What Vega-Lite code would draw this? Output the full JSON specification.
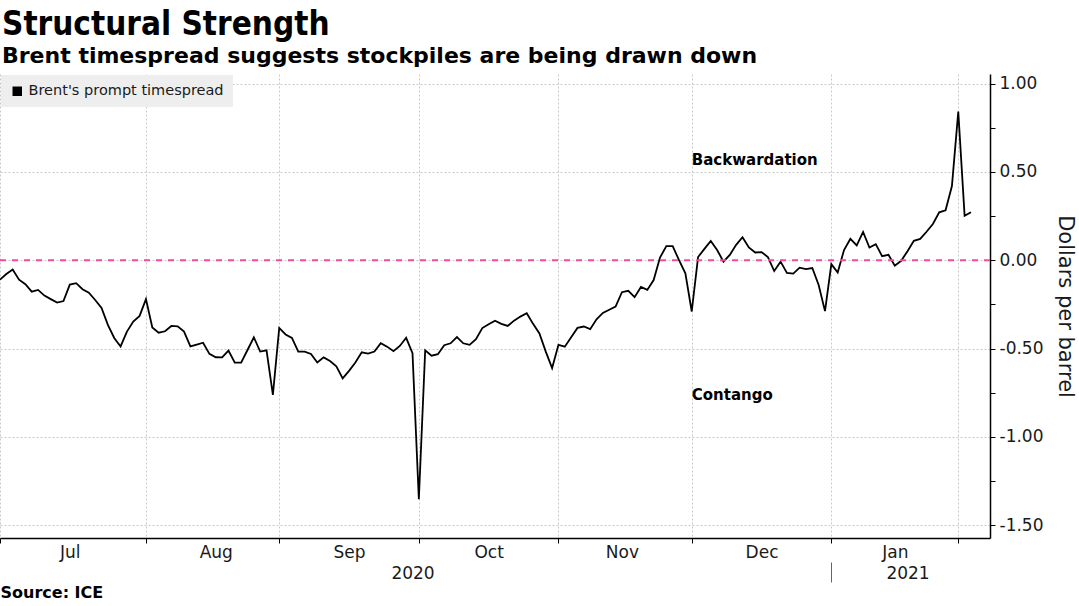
{
  "$schema": "https://vega.github.io/schema/vega-lite/v6.json",
  "width": 990,
  "height": 464,
  "autosize": {"type": "none"},
  "padding": {"left": 0, "top": 74, "right": 89, "bottom": 68},
  "background": "white",
  "title": {
    "text": "Structural Strength",
    "subtitle": "Brent timespread suggests stockpiles are being drawn down",
    "anchor": "start",
    "frame": "group",
    "font": "DejaVu Sans Condensed",
    "fontSize": 33,
    "fontWeight": "bold",
    "color": "#000000",
    "subtitleFont": "DejaVu Sans",
    "subtitleFontSize": 22,
    "subtitleFontWeight": "bold",
    "subtitleColor": "#000000",
    "subtitlePadding": 4,
    "offset": 7,
    "dx": 2
  },
  "config": {"view": {"stroke": null}, "font": "DejaVu Sans"},
  "datasets": {
    "spread": [
      {"date": "2020-07-01", "value": -0.11},
      {"date": "2020-07-02", "value": -0.078},
      {"date": "2020-07-03", "value": -0.052},
      {"date": "2020-07-06", "value": -0.11},
      {"date": "2020-07-07", "value": -0.136},
      {"date": "2020-07-08", "value": -0.178},
      {"date": "2020-07-09", "value": -0.168},
      {"date": "2020-07-10", "value": -0.2},
      {"date": "2020-07-13", "value": -0.22},
      {"date": "2020-07-14", "value": -0.24},
      {"date": "2020-07-15", "value": -0.231},
      {"date": "2020-07-16", "value": -0.138},
      {"date": "2020-07-17", "value": -0.13},
      {"date": "2020-07-20", "value": -0.164},
      {"date": "2020-07-21", "value": -0.184},
      {"date": "2020-07-22", "value": -0.225},
      {"date": "2020-07-23", "value": -0.27},
      {"date": "2020-07-24", "value": -0.366},
      {"date": "2020-07-27", "value": -0.44},
      {"date": "2020-07-28", "value": -0.488},
      {"date": "2020-07-29", "value": -0.404},
      {"date": "2020-07-30", "value": -0.347},
      {"date": "2020-07-31", "value": -0.315},
      {"date": "2020-08-03", "value": -0.22},
      {"date": "2020-08-04", "value": -0.381},
      {"date": "2020-08-05", "value": -0.41},
      {"date": "2020-08-06", "value": -0.402},
      {"date": "2020-08-07", "value": -0.372},
      {"date": "2020-08-10", "value": -0.374},
      {"date": "2020-08-11", "value": -0.404},
      {"date": "2020-08-12", "value": -0.488},
      {"date": "2020-08-13", "value": -0.477},
      {"date": "2020-08-14", "value": -0.467},
      {"date": "2020-08-17", "value": -0.53},
      {"date": "2020-08-18", "value": -0.549},
      {"date": "2020-08-19", "value": -0.55},
      {"date": "2020-08-20", "value": -0.511},
      {"date": "2020-08-21", "value": -0.58},
      {"date": "2020-08-24", "value": -0.58},
      {"date": "2020-08-25", "value": -0.508},
      {"date": "2020-08-26", "value": -0.436},
      {"date": "2020-08-27", "value": -0.517},
      {"date": "2020-08-28", "value": -0.51},
      {"date": "2020-08-31", "value": -0.762},
      {"date": "2020-09-01", "value": -0.383},
      {"date": "2020-09-02", "value": -0.42},
      {"date": "2020-09-03", "value": -0.44},
      {"date": "2020-09-04", "value": -0.517},
      {"date": "2020-09-07", "value": -0.517},
      {"date": "2020-09-08", "value": -0.53},
      {"date": "2020-09-09", "value": -0.579},
      {"date": "2020-09-10", "value": -0.55},
      {"date": "2020-09-11", "value": -0.57},
      {"date": "2020-09-14", "value": -0.6},
      {"date": "2020-09-15", "value": -0.669},
      {"date": "2020-09-16", "value": -0.626},
      {"date": "2020-09-17", "value": -0.579},
      {"date": "2020-09-18", "value": -0.521},
      {"date": "2020-09-21", "value": -0.528},
      {"date": "2020-09-22", "value": -0.517},
      {"date": "2020-09-23", "value": -0.469},
      {"date": "2020-09-24", "value": -0.489},
      {"date": "2020-09-25", "value": -0.515},
      {"date": "2020-09-28", "value": -0.485},
      {"date": "2020-09-29", "value": -0.439},
      {"date": "2020-09-30", "value": -0.526},
      {"date": "2020-10-01", "value": -1.353},
      {"date": "2020-10-02", "value": -0.51},
      {"date": "2020-10-05", "value": -0.54},
      {"date": "2020-10-06", "value": -0.532},
      {"date": "2020-10-07", "value": -0.481},
      {"date": "2020-10-08", "value": -0.47},
      {"date": "2020-10-09", "value": -0.435},
      {"date": "2020-10-12", "value": -0.47},
      {"date": "2020-10-13", "value": -0.479},
      {"date": "2020-10-14", "value": -0.447},
      {"date": "2020-10-15", "value": -0.384},
      {"date": "2020-10-16", "value": -0.362},
      {"date": "2020-10-19", "value": -0.342},
      {"date": "2020-10-20", "value": -0.36},
      {"date": "2020-10-21", "value": -0.372},
      {"date": "2020-10-22", "value": -0.342},
      {"date": "2020-10-23", "value": -0.319},
      {"date": "2020-10-26", "value": -0.3},
      {"date": "2020-10-27", "value": -0.36},
      {"date": "2020-10-28", "value": -0.414},
      {"date": "2020-10-29", "value": -0.517},
      {"date": "2020-10-30", "value": -0.61},
      {"date": "2020-11-02", "value": -0.479},
      {"date": "2020-11-03", "value": -0.489},
      {"date": "2020-11-04", "value": -0.436},
      {"date": "2020-11-05", "value": -0.383},
      {"date": "2020-11-06", "value": -0.375},
      {"date": "2020-11-09", "value": -0.39},
      {"date": "2020-11-10", "value": -0.334},
      {"date": "2020-11-11", "value": -0.298},
      {"date": "2020-11-12", "value": -0.28},
      {"date": "2020-11-13", "value": -0.262},
      {"date": "2020-11-16", "value": -0.181},
      {"date": "2020-11-17", "value": -0.173},
      {"date": "2020-11-18", "value": -0.209},
      {"date": "2020-11-19", "value": -0.151},
      {"date": "2020-11-20", "value": -0.168},
      {"date": "2020-11-23", "value": -0.112},
      {"date": "2020-11-24", "value": 0.015},
      {"date": "2020-11-25", "value": 0.08},
      {"date": "2020-11-26", "value": 0.08},
      {"date": "2020-11-27", "value": 0.0},
      {"date": "2020-11-30", "value": -0.074},
      {"date": "2020-12-01", "value": -0.29},
      {"date": "2020-12-02", "value": 0.018},
      {"date": "2020-12-03", "value": 0.064},
      {"date": "2020-12-04", "value": 0.109},
      {"date": "2020-12-07", "value": 0.058},
      {"date": "2020-12-08", "value": -0.008},
      {"date": "2020-12-09", "value": 0.03},
      {"date": "2020-12-10", "value": 0.087},
      {"date": "2020-12-11", "value": 0.13},
      {"date": "2020-12-14", "value": 0.072},
      {"date": "2020-12-15", "value": 0.044},
      {"date": "2020-12-16", "value": 0.046},
      {"date": "2020-12-17", "value": 0.018},
      {"date": "2020-12-18", "value": -0.061},
      {"date": "2020-12-21", "value": -0.008},
      {"date": "2020-12-22", "value": -0.072},
      {"date": "2020-12-23", "value": -0.076},
      {"date": "2020-12-24", "value": -0.042},
      {"date": "2020-12-28", "value": -0.05},
      {"date": "2020-12-29", "value": -0.044},
      {"date": "2020-12-30", "value": -0.14},
      {"date": "2020-12-31", "value": -0.288},
      {"date": "2021-01-04", "value": -0.022},
      {"date": "2021-01-05", "value": -0.069},
      {"date": "2021-01-06", "value": 0.058},
      {"date": "2021-01-07", "value": 0.121},
      {"date": "2021-01-08", "value": 0.084},
      {"date": "2021-01-11", "value": 0.16},
      {"date": "2021-01-12", "value": 0.072},
      {"date": "2021-01-13", "value": 0.091},
      {"date": "2021-01-14", "value": 0.023},
      {"date": "2021-01-15", "value": 0.031},
      {"date": "2021-01-18", "value": -0.031},
      {"date": "2021-01-19", "value": -0.003},
      {"date": "2021-01-20", "value": 0.051},
      {"date": "2021-01-21", "value": 0.11},
      {"date": "2021-01-22", "value": 0.121},
      {"date": "2021-01-25", "value": 0.161},
      {"date": "2021-01-26", "value": 0.205},
      {"date": "2021-01-27", "value": 0.271},
      {"date": "2021-01-28", "value": 0.283},
      {"date": "2021-01-29", "value": 0.42},
      {"date": "2021-02-01", "value": 0.841},
      {"date": "2021-02-02", "value": 0.252},
      {"date": "2021-02-03", "value": 0.272}
    ],
    "notes": [
      {"date": "2020-12-01", "value": 0.567, "label": "Backwardation"},
      {"date": "2020-12-01", "value": -0.762, "label": "Contango"}
    ],
    "zeroline": [{"level": 0}]
  },
  "layer": [
    {
      "data": {"name": "spread"},
      "mark": {"type": "line", "strokeWidth": 1.8, "interpolate": "linear"},
      "encoding": {
        "x": {
          "field": "date",
          "type": "ordinal",
          "scale": {
            "type": "point",
            "padding": 0,
            "domain": [
              "2020-07-01","2020-07-02","2020-07-03","2020-07-06","2020-07-07","2020-07-08","2020-07-09","2020-07-10","2020-07-13","2020-07-14","2020-07-15","2020-07-16","2020-07-17","2020-07-20","2020-07-21","2020-07-22","2020-07-23","2020-07-24","2020-07-27","2020-07-28","2020-07-29","2020-07-30","2020-07-31",
              "2020-08-03","2020-08-04","2020-08-05","2020-08-06","2020-08-07","2020-08-10","2020-08-11","2020-08-12","2020-08-13","2020-08-14","2020-08-17","2020-08-18","2020-08-19","2020-08-20","2020-08-21","2020-08-24","2020-08-25","2020-08-26","2020-08-27","2020-08-28","2020-08-31",
              "2020-09-01","2020-09-02","2020-09-03","2020-09-04","2020-09-07","2020-09-08","2020-09-09","2020-09-10","2020-09-11","2020-09-14","2020-09-15","2020-09-16","2020-09-17","2020-09-18","2020-09-21","2020-09-22","2020-09-23","2020-09-24","2020-09-25","2020-09-28","2020-09-29","2020-09-30",
              "2020-10-01","2020-10-02","2020-10-05","2020-10-06","2020-10-07","2020-10-08","2020-10-09","2020-10-12","2020-10-13","2020-10-14","2020-10-15","2020-10-16","2020-10-19","2020-10-20","2020-10-21","2020-10-22","2020-10-23","2020-10-26","2020-10-27","2020-10-28","2020-10-29","2020-10-30",
              "2020-11-02","2020-11-03","2020-11-04","2020-11-05","2020-11-06","2020-11-09","2020-11-10","2020-11-11","2020-11-12","2020-11-13","2020-11-16","2020-11-17","2020-11-18","2020-11-19","2020-11-20","2020-11-23","2020-11-24","2020-11-25","2020-11-26","2020-11-27","2020-11-30",
              "2020-12-01","2020-12-02","2020-12-03","2020-12-04","2020-12-07","2020-12-08","2020-12-09","2020-12-10","2020-12-11","2020-12-14","2020-12-15","2020-12-16","2020-12-17","2020-12-18","2020-12-21","2020-12-22","2020-12-23","2020-12-24","2020-12-28","2020-12-29","2020-12-30","2020-12-31",
              "2021-01-04","2021-01-05","2021-01-06","2021-01-07","2021-01-08","2021-01-11","2021-01-12","2021-01-13","2021-01-14","2021-01-15","2021-01-18","2021-01-19","2021-01-20","2021-01-21","2021-01-22","2021-01-25","2021-01-26","2021-01-27","2021-01-28","2021-01-29",
              "2021-02-01","2021-02-02","2021-02-03","2021-02-04","2021-02-05","2021-02-08"
            ]
          },
          "axis": {
            "orient": "bottom",
            "title": null,
            "values": ["2020-07-01","2020-08-03","2020-09-01","2020-10-01","2020-11-02","2020-12-01","2021-01-04","2021-02-01","2020-07-16","2020-08-18","2020-09-16","2020-10-16","2020-11-16","2020-12-16","2021-01-18"],
            "labelExpr": "utcdate(toDate(datum.value)) > 5 ? utcFormat(toDate(datum.value), '%b') : ''",
            "labelAngle": 0,
            "labelOverlap": false,
            "labelBound": false,
            "labelFontSize": 17,
            "labelColor": "#1a1a1a",
            "labelPadding": 1,
            "grid": true,
            "gridDash": [2, 2],
            "gridColor": "#c8c8c8",
            "gridOpacity": {"condition": {"test": "utcdate(toDate(datum.value)) > 5", "value": 0}, "value": 1},
            "tickOpacity": {"condition": {"test": "utcdate(toDate(datum.value)) > 5", "value": 0}, "value": 1},
            "tickSize": 5,
            "tickColor": "#000000",
            "domainColor": "#000000",
            "domainWidth": 1.5
          }
        },
        "y": {
          "field": "value",
          "type": "quantitative",
          "scale": {"domain": [-1.572, 1.054], "nice": false, "zero": false},
          "axis": {
            "orient": "right",
            "values": [-1.5, -1.25, -1, -0.75, -0.5, -0.25, 0, 0.25, 0.5, 0.75, 1],
            "labelExpr": "abs(datum.value * 2 - round(datum.value * 2)) > 0.01 ? '' : replace(format(datum.value, '.2f'), '\u2212', '-')",
            "grid": true,
            "gridDash": [2, 2],
            "gridColor": "#c8c8c8",
            "gridOpacity": {"condition": {"test": "abs(datum.value * 2 - round(datum.value * 2)) > 0.01", "value": 0}, "value": 1},
            "tickSize": 5,
            "tickColor": "#000000",
            "domainColor": "#000000",
            "domainWidth": 1.5,
            "labelFontSize": 17,
            "labelColor": "#1a1a1a",
            "labelPadding": 4,
            "title": "Dollars per barrel",
            "titleFontSize": 21,
            "titleFontWeight": "normal",
            "titleColor": "#1a1a1a",
            "titleAngle": 90,
            "titlePadding": 12
          }
        },
        "color": {
          "datum": "Brent's prompt timespread",
          "scale": {"range": ["#000000"]},
          "legend": {
            "title": null,
            "orient": "top-left",
            "offset": 1,
            "fillColor": "#eeeeee",
            "padding": 9,
            "symbolType": "square",
            "symbolSize": 90,
            "symbolFillColor": "#000000",
            "symbolStrokeColor": "#000000",
            "symbolStrokeWidth": 0,
            "labelFontSize": 14.5,
            "labelLimit": 400,
            "labelColor": "#1a1a1a",
            "labelOffset": 4
          }
        }
      }
    },
    {
      "data": {"name": "zeroline"},
      "mark": {"type": "rule", "color": "#f7489c", "strokeDash": [6, 6], "strokeWidth": 2},
      "encoding": {"y": {"field": "level", "type": "quantitative"}}
    },
    {
      "data": {"name": "notes"},
      "mark": {"type": "text", "align": "left", "baseline": "middle", "fontWeight": "bold", "fontSize": 15, "color": "#000000"},
      "encoding": {
        "x": {
          "field": "date",
          "type": "ordinal",
          "axis": {
            "orient": "bottom",
            "values": ["2020-09-30", "2021-01-04", "2021-01-20"],
            "labelExpr": "datum.value == '2020-09-30' ? '2020' : (datum.value == '2021-01-20' ? '2021' : '')",
            "labelAngle": 0,
            "labelOverlap": false,
            "labelBound": false,
            "labelFontSize": 17,
            "labelColor": "#1a1a1a",
            "labelPadding": -17,
            "domain": false,
            "grid": false,
            "offset": 24,
            "tickSize": 20,
            "tickColor": "#666666",
            "tickOpacity": {"condition": {"test": "datum.value == '2021-01-04'", "value": 1}, "value": 0},
            "title": "Source: ICE",
            "titleAnchor": "start",
            "titleAlign": "left",
            "titleFontSize": 16,
            "titleFontWeight": "bold",
            "titleColor": "#000000",
            "titlePadding": 2
          }
        },
        "y": {"field": "value", "type": "quantitative"},
        "text": {"field": "label"}
      }
    }
  ],
  "resolve": {"axis": {"x": "independent"}}
}
